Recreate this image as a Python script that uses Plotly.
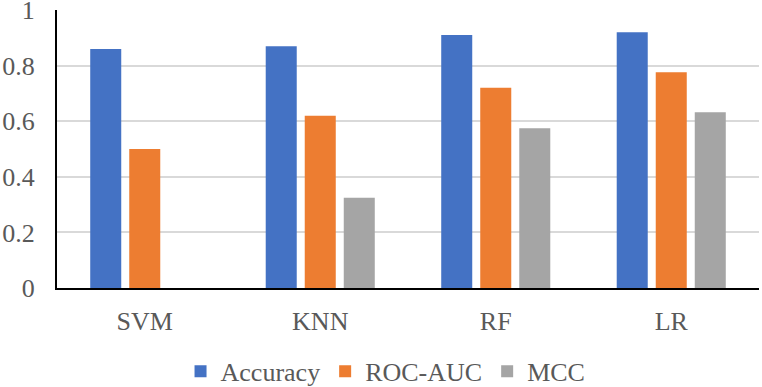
import plotly.graph_objects as go

categories = ["SVM", "KNN", "RF", "LR"]
accuracy = [0.86, 0.87, 0.91, 0.92]
roc_auc = [0.50, 0.62, 0.72, 0.776]
mcc = [0.0, 0.325, 0.575, 0.632]
series_names = ["Accuracy", "ROC-AUC", "MCC"]
colors = ["#4472C4", "#ED7D31", "#A5A5A5"]
y_ticks = [0, 0.2, 0.4, 0.6, 0.8, 1]
y_tick_labels = ["0", "0.2", "0.4", "0.6", "0.8", "1"]

FONT = "Liberation Serif, Times New Roman, serif"
GRAY = "#595959"

fig = go.Figure()
for name, vals, col in zip(series_names, [accuracy, roc_auc, mcc], colors):
    fig.add_trace(go.Bar(x=categories, y=vals, name=name, marker_color=col,
                         marker_line_width=0))

fig.update_layout(
    width=762, height=387,
    margin=dict(l=57, r=3, t=10, b=99, autoexpand=False),
    paper_bgcolor="white", plot_bgcolor="white",
    barmode="group", bargap=0.333, bargroupgap=0.205,
    font=dict(family=FONT, size=26, color=GRAY),
    showlegend=True,
    legend=dict(orientation="h", x=0.468, xanchor="center", y=-0.30, yanchor="middle",
                font=dict(family=FONT, size=26, color=GRAY), itemwidth=30,
                traceorder="normal"),
)
fig.update_xaxes(showline=True, linecolor="black", linewidth=2, ticks="",
                 showgrid=False, tickfont=dict(family=FONT, size=26, color=GRAY),
                 ticklabelstandoff=9, automargin=False)
fig.update_yaxes(range=[0, 1], tickvals=y_ticks, ticktext=y_tick_labels,
                 showline=True, linecolor="black", linewidth=2, ticks="",
                 showgrid=True, gridcolor="#D9D9D9", gridwidth=1.5, zeroline=False,
                 tickfont=dict(family=FONT, size=26, color=GRAY),
                 ticklabelstandoff=15, automargin=False, ticklabeloverflow="allow")

fig.write_html("out.html")
